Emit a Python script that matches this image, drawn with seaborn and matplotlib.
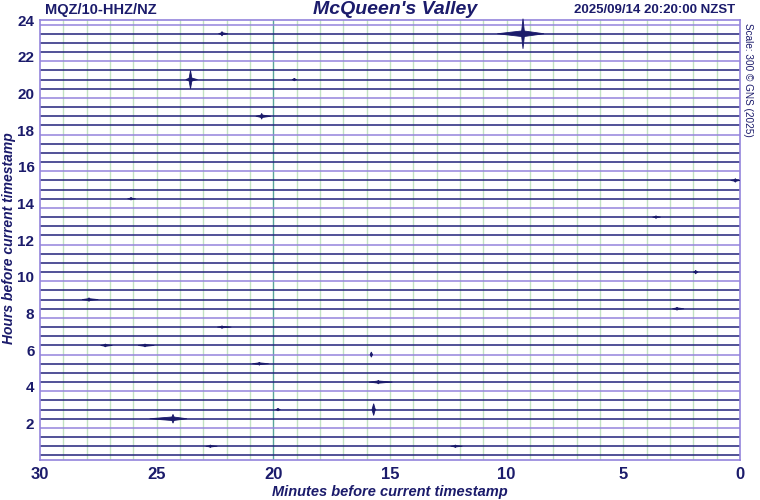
import numpy as np
import pandas as pd
import matplotlib
matplotlib.use("Agg")
import matplotlib.pyplot as plt
import seaborn as sns

# helicorder rows: one trace every 30 minutes, 24 hours
trace_hours = [24 - 0.25 - 0.5 * i for i in range(48)]
trace_kind = ["mark" if i % 4 == 0 else "plain" for i in range(48)]

# visible events: row (hours), position (minutes before), spike and coda sizes
ev_hour = [23.25, 23.25, 20.75, 18.75, 20.75, 15.25, 14.25, 13.25, 10.25, 8.75, 8.25,
           7.25, 6.25, 6.25, 5.25, 5.75, 4.25, 2.75, 2.25, 2.75, 0.75, 0.75]
ev_minute = [9.3, 22.2, 23.55, 20.5, 19.1, 0.2, 26.1, 3.6, 1.9, 27.9, 2.7,
             22.2, 27.2, 25.5, 20.6, 15.8, 15.5, 15.7, 24.3, 19.8, 22.7, 12.2]
ev_spike = [0.82, 0.12, 0.5, 0.16, 0.07, 0.1, 0.07, 0.07, 0.1, 0.1, 0.08,
            0.07, 0.08, 0.08, 0.08, 0.14, 0.1, 0.32, 0.24, 0.07, 0.07, 0.07]
ev_lead = [1.1, 0.15, 0.2, 0.25, 0.1, 0.2, 0.15, 0.15, 0.1, 0.3, 0.2,
           0.2, 0.2, 0.3, 0.3, 0.05, 0.4, 0.05, 1.0, 0.1, 0.2, 0.2]
ev_tail = [0.9, 0.25, 0.3, 0.4, 0.1, 0.2, 0.2, 0.2, 0.1, 0.4, 0.3,
           0.4, 0.3, 0.4, 0.4, 0.05, 0.6, 0.1, 0.6, 0.1, 0.3, 0.3]
ev_thick = [0.16, 0.06, 0.1, 0.07, 0.04, 0.05, 0.04, 0.04, 0.05, 0.05, 0.05,
            0.04, 0.05, 0.05, 0.05, 0.03, 0.06, 0.05, 0.1, 0.04, 0.04, 0.04]

x_ticks = [30, 25, 20, 15, 10, 5, 0]
y_ticks = [2, 4, 6, 8, 10, 12, 14, 16, 18, 20, 22, 24]

navy = "#1b1b6b"
trace_navy = "#22227a"
purple = "#9484dc"

sns.set_theme(style="white")
plt.rcParams["font.family"] = ["Liberation Sans", "DejaVu Sans"]

fig = plt.figure(figsize=(7.6, 5.0), dpi=100)
ax = fig.add_axes([40 / 760, 40 / 500, 700 / 760, 440 / 500])

# minute grid
for m in range(1, 30):
    ax.axvline(m, color="#5aa59a" if m == 20 else "#c2e2c2", lw=1.0, zorder=0)

df = pd.DataFrame({
    "minute": [30, 0] * 48,
    "hour": np.repeat(trace_hours, 2),
    "trace": np.repeat(range(48), 2),
    "kind": np.repeat(trace_kind, 2),
})
sns.lineplot(data=df, x="minute", y="hour", units="trace", estimator=None,
             hue="kind", palette={"mark": purple, "plain": trace_navy},
             linewidth=1.1, legend=False, ax=ax, zorder=2)

for h, m, sp, ld, tl, th in zip(ev_hour, ev_minute, ev_spike, ev_lead, ev_tail, ev_thick):
    w = 0.07 if sp > 0.2 else 0.05
    ax.fill([m + ld, m, m - tl, m], [h, h + th, h, h - th], color=navy, lw=0.6, zorder=3)
    ax.fill([m + w, m, m - w, m], [h, h + sp, h, h - sp], color=navy, lw=0.6,
            zorder=3, clip_on=False)

ax.set_xlim(30, 0)
ax.set_ylim(0, 24)
ax.set_xticks(x_ticks)
ax.set_yticks(y_ticks)
ax.tick_params(axis="x", length=0, labelsize=12, labelcolor=navy, pad=5)
ax.tick_params(axis="y", length=0, labelsize=11, labelcolor=navy, pad=4)
for lab in ax.get_xticklabels() + ax.get_yticklabels():
    lab.set_fontweight("bold")
for s in ax.spines.values():
    s.set_color(purple)
    s.set_linewidth(1.2)

ax.set_xlabel("Minutes before current timestamp", fontsize=10.5, fontweight="bold",
              fontstyle="italic", color=navy, labelpad=2)
ax.set_ylabel("")
fig.text(9 / 760, 1 - 238 / 500, "Hours before current timestamp", ha="center", va="center",
         rotation=90, fontsize=10, fontweight="bold", fontstyle="italic", color=navy)

fig.text(395 / 760, 1 - 9 / 500, "McQueen's Valley", ha="center", va="center",
         fontsize=14, fontweight="bold", fontstyle="italic", color=navy)
fig.text(45 / 760, 1 - 10 / 500, "MQZ/10-HHZ/NZ", ha="left", va="center",
         fontsize=10.5, fontweight="bold", color=navy)
fig.text(735 / 760, 1 - 10 / 500, "2025/09/14 20:20:00 NZST", ha="right", va="center",
         fontsize=9.5, fontweight="bold", color=navy,
         family=["Liberation Sans Narrow", "Liberation Sans", "DejaVu Sans"])
fig.text(748 / 760, 1 - 80 / 500, "Scale: 300 © GNS (2025)", ha="center", va="center",
         rotation=-90, fontsize=7.2, color=navy)

fig.savefig("out.png", dpi=100)
